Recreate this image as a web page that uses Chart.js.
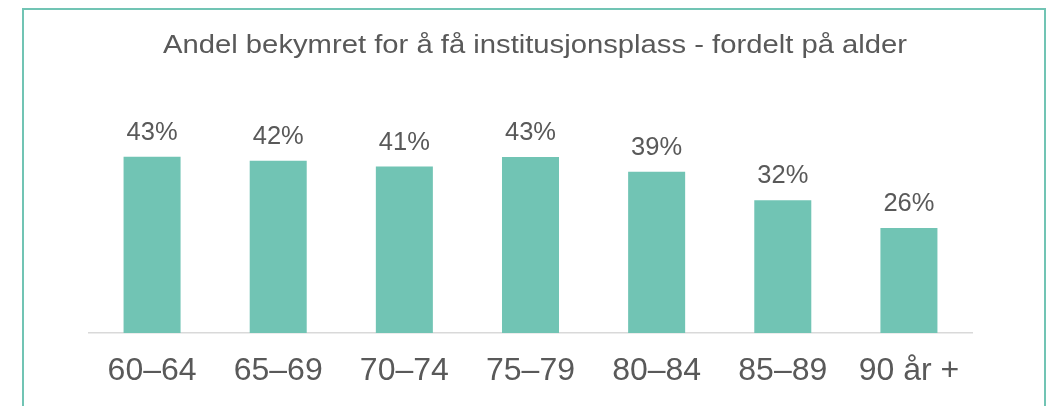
<!DOCTYPE html>
<html>
<head>
<meta charset="utf-8">
<script src="https://cdn.jsdelivr.net/npm/chart.js@4/dist/chart.umd.min.js"></script>
<style>
  html, body { margin: 0; padding: 0; background: #ffffff; overflow: hidden; }
  #wrap { position: relative; width: 1051px; height: 406px; }
  #frame { position: absolute; left: 22px; top: 8px; width: 1024px; height: 430px; box-sizing: border-box; border: 2px solid #71c4b4; }
  #c { position: absolute; left: 0; top: 0; }
</style>
</head>
<body>
<div id="wrap">
  <div id="frame"></div>
  <canvas id="c" width="1051" height="406"></canvas>
</div>
<script>
const titleText = "Andel bekymret for å få institusjonsplass - fordelt på alder";
const categories = ["60–64", "65–69", "70–74", "75–79", "80–84", "85–89", "90 år +"];
const shareWorried = [43.0, 42.0, 40.6, 42.9, 39.3, 32.4, 25.6];

const FONT = "'Liberation Sans', Arial, sans-serif";
const TEXT = "#595959";

const labelPlugin = {
  id: "barLabels",
  afterDatasetsDraw(chart) {
    const ctx = chart.ctx;
    const meta = chart.getDatasetMeta(0);
    ctx.save();
    ctx.font = "25.5px " + FONT;
    ctx.fillStyle = TEXT;
    ctx.textAlign = "center";
    ctx.textBaseline = "alphabetic";
    meta.data.forEach((bar, i) => {
      ctx.fillText(Math.round(shareWorried[i]) + "%", bar.x, bar.y - 17);
    });
    ctx.restore();
  }
};

const titlePlugin = {
  id: "chartTitle",
  afterDraw(chart) {
    const ctx = chart.ctx;
    const a = chart.chartArea;
    const cx = (a.left + a.right) / 2 + 4.5;
    ctx.save();
    ctx.font = "25px " + FONT;
    ctx.fillStyle = TEXT;
    ctx.textAlign = "center";
    ctx.textBaseline = "alphabetic";
    const w = ctx.measureText(titleText).width;
    ctx.translate(cx, 52.5);
    ctx.scale(744 / w, 1);
    ctx.fillText(titleText, 0, 0);
    ctx.restore();
  }
};

new Chart(document.getElementById("c"), {
  type: "bar",
  data: {
    labels: categories,
    datasets: [{
      data: shareWorried,
      backgroundColor: "#71c4b4",
      borderWidth: 0,
      categoryPercentage: 1,
      barPercentage: 0.452
    }]
  },
  options: {
    responsive: false,
    animation: false,
    events: [],
    layout: { padding: { left: 89, right: 79, top: 128, bottom: 15 } },
    plugins: {
      legend: { display: false },
      tooltip: { enabled: false },
      title: { display: false }
    },
    scales: {
      x: {
        grid: { display: false, drawTicks: false },
        border: { display: true, color: "#d9d9d9", width: 1.5 },
        ticks: { color: TEXT, padding: 19, font: { family: FONT, size: 32, lineHeight: 1.2 } },
        afterFit(scale) { scale.height = 58; }
      },
      y: {
        display: false,
        min: 0,
        max: 50
      }
    }
  },
  plugins: [labelPlugin, titlePlugin]
});
</script>
</body>
</html>
